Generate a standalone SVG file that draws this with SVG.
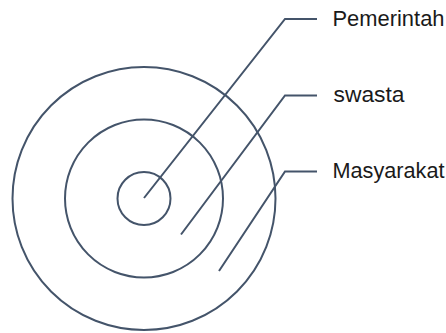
<svg xmlns="http://www.w3.org/2000/svg" width="446" height="333" viewBox="0 0 446 333">
<style>
.ring{fill:none;stroke:#44546A;stroke-width:2}
.conn{fill:none;stroke:#44546A;stroke-width:2}
.lbl{font-family:"Liberation Sans",Arial,sans-serif;font-size:22px;fill:#1a1a1a}
</style>
<rect width="446" height="333" fill="#fff"/>
<g id="masyarakat-ring"><circle class="ring" cx="144" cy="198.5" r="131.5"/></g>
<g id="swasta-ring"><circle class="ring" cx="144" cy="198.5" r="79"/></g>
<g id="pemerintah-ring"><circle class="ring" cx="144" cy="198.5" r="26.5"/></g>
<g id="connectors">
<polyline class="conn" points="144,198 285,19 317,19"/>
<polyline class="conn" points="181,234.5 285,95.5 317,95.5"/>
<polyline class="conn" points="219,271 285,171.5 317,171.5"/>
</g>
<g id="label-pemerintah"><text class="lbl" x="332.5" y="25.5" textLength="112" lengthAdjust="spacingAndGlyphs">Pemerintah</text></g>
<g id="label-swasta"><text class="lbl" x="333.5" y="102" textLength="71" lengthAdjust="spacingAndGlyphs">swasta</text></g>
<g id="label-masyarakat"><text class="lbl" x="332.5" y="178" textLength="112" lengthAdjust="spacingAndGlyphs">Masyarakat</text></g>
</svg>
